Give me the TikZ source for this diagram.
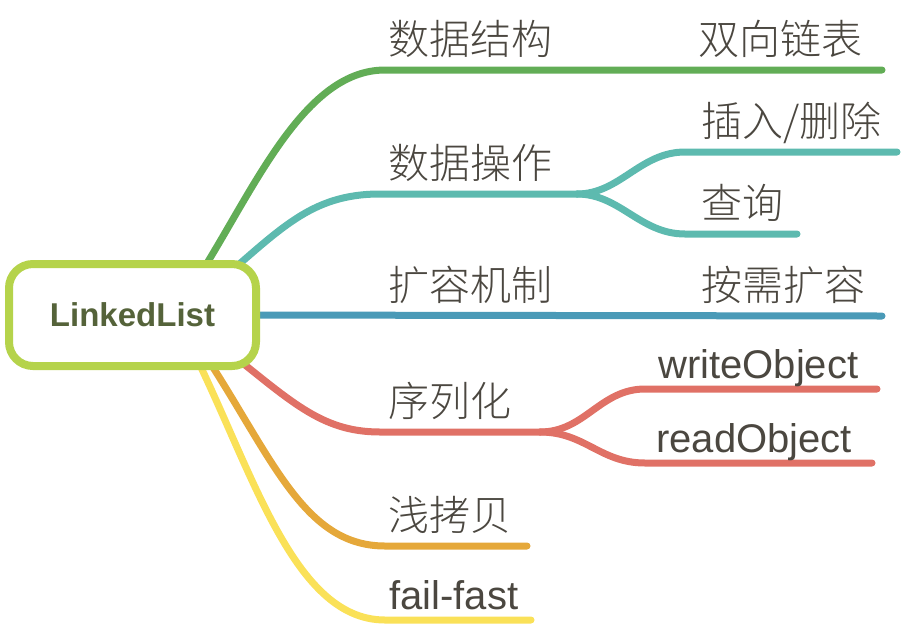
\documentclass[tikz,border=0pt]{standalone}
\usepackage{fontspec}
\setmainfont{Liberation Sans}
\newfontfamily\cjk{Noto Sans CJK SC Light}
\usetikzlibrary{backgrounds}

\definecolor{rootline}{HTML}{B5D34B}
\definecolor{roottxt}{HTML}{55633A}
\definecolor{txtgray}{HTML}{4B4740}
\definecolor{cgreen}{HTML}{62AD56}
\definecolor{cteal}{HTML}{5DBAAF}
\definecolor{cblue}{HTML}{4A9AB7}
\definecolor{cred}{HTML}{E07166}
\definecolor{corange}{HTML}{E5A83A}
\definecolor{cyellow}{HTML}{FAE158}

\tikzset{
  branch/.style={line width=7, line cap=round},
  topic/.style={anchor=base west, inner sep=0, text=txtgray, font=\cjk\fontsize{41}{41}\selectfont},
  word/.style={anchor=base west, inner sep=0, text=txtgray, font=\fontsize{40}{40}\selectfont},
}

\begin{document}
\begin{tikzpicture}[x=1pt,y=-1pt]
\useasboundingbox (0,0) rectangle (902,630);

\node (root) [draw=rootline, line width=8, rounded corners=24, fill=white, minimum width=247, minimum height=102, text=roottxt, font=\bfseries\fontsize{33}{33}\selectfont] at (132.5,315) {LinkedList};

% labels
\node (ds) [topic] at (388,54) {数据结构};
\node (dll) [topic] at (698,54) {双向链表};
\node (op) [topic] at (388,178) {数据操作};
\node (ins) [topic] at (701,136) {插入/删除};
\node (qry) [topic] at (701,218) {查询};
\node (grow) [topic] at (388,300) {扩容机制};
\node (need) [topic] at (701,300) {按需扩容};
\node (ser) [topic] at (388,416) {序列化};
\node (wr) [word] at (658,378) {writeObject};
\node (rd) [word] at (656,452) {readObject};
\node (copy) [topic] at (388,530) {浅拷贝};
\node (ff) [word] at (389,609) {fail-fast};

% branch ends
\coordinate (dsStart) at (190,290);
\coordinate (dsEnd) at (882,70);
\coordinate (opStart) at (215,285);
\coordinate (opFork) at (577,194);
\coordinate (insEnd) at (897,152);
\coordinate (qryEnd) at (797,234);
\coordinate (growStart) at (240,315);
\coordinate (growEnd) at (882,316);
\coordinate (serStart) at (220,345);
\coordinate (serFork) at (540,432);
\coordinate (wrEnd) at (877,389);
\coordinate (rdEnd) at (872,463);
\coordinate (copyStart) at (195,340);
\coordinate (copyEnd) at (527,546);
\coordinate (ffStart) at (185,335);
\coordinate (ffEnd) at (531,620);

\begin{scope}[on background layer]
\draw [branch, cgreen] (dsStart) .. controls (250,200) and (300,70) .. (385,70) -- (dsEnd);
\draw [branch, cteal] (opStart) .. controls (280,230) and (310,194) .. (380,194) -- (opFork);
\draw [branch, cteal] (opFork) .. controls (620,194) and (640,152) .. (685,152) -- (insEnd);
\draw [branch, cteal] (opFork) .. controls (620,194) and (640,234) .. (685,234) -- (qryEnd);
\draw [branch, cblue] (growStart) -- (growEnd);
\draw [branch, cred] (serStart) .. controls (290,400) and (320,432) .. (380,432) -- (serFork);
\draw [branch, cred] (serFork) .. controls (585,432) and (600,389) .. (645,389) -- (wrEnd);
\draw [branch, cred] (serFork) .. controls (585,432) and (600,463) .. (645,463) -- (rdEnd);
\draw [branch, corange] (copyStart) .. controls (270,450) and (300,546) .. (385,546) -- (copyEnd);
\draw [branch, cyellow] (ffStart) .. controls (250,460) and (290,620) .. (385,620) -- (ffEnd);
\end{scope}
\end{tikzpicture}
\end{document}
